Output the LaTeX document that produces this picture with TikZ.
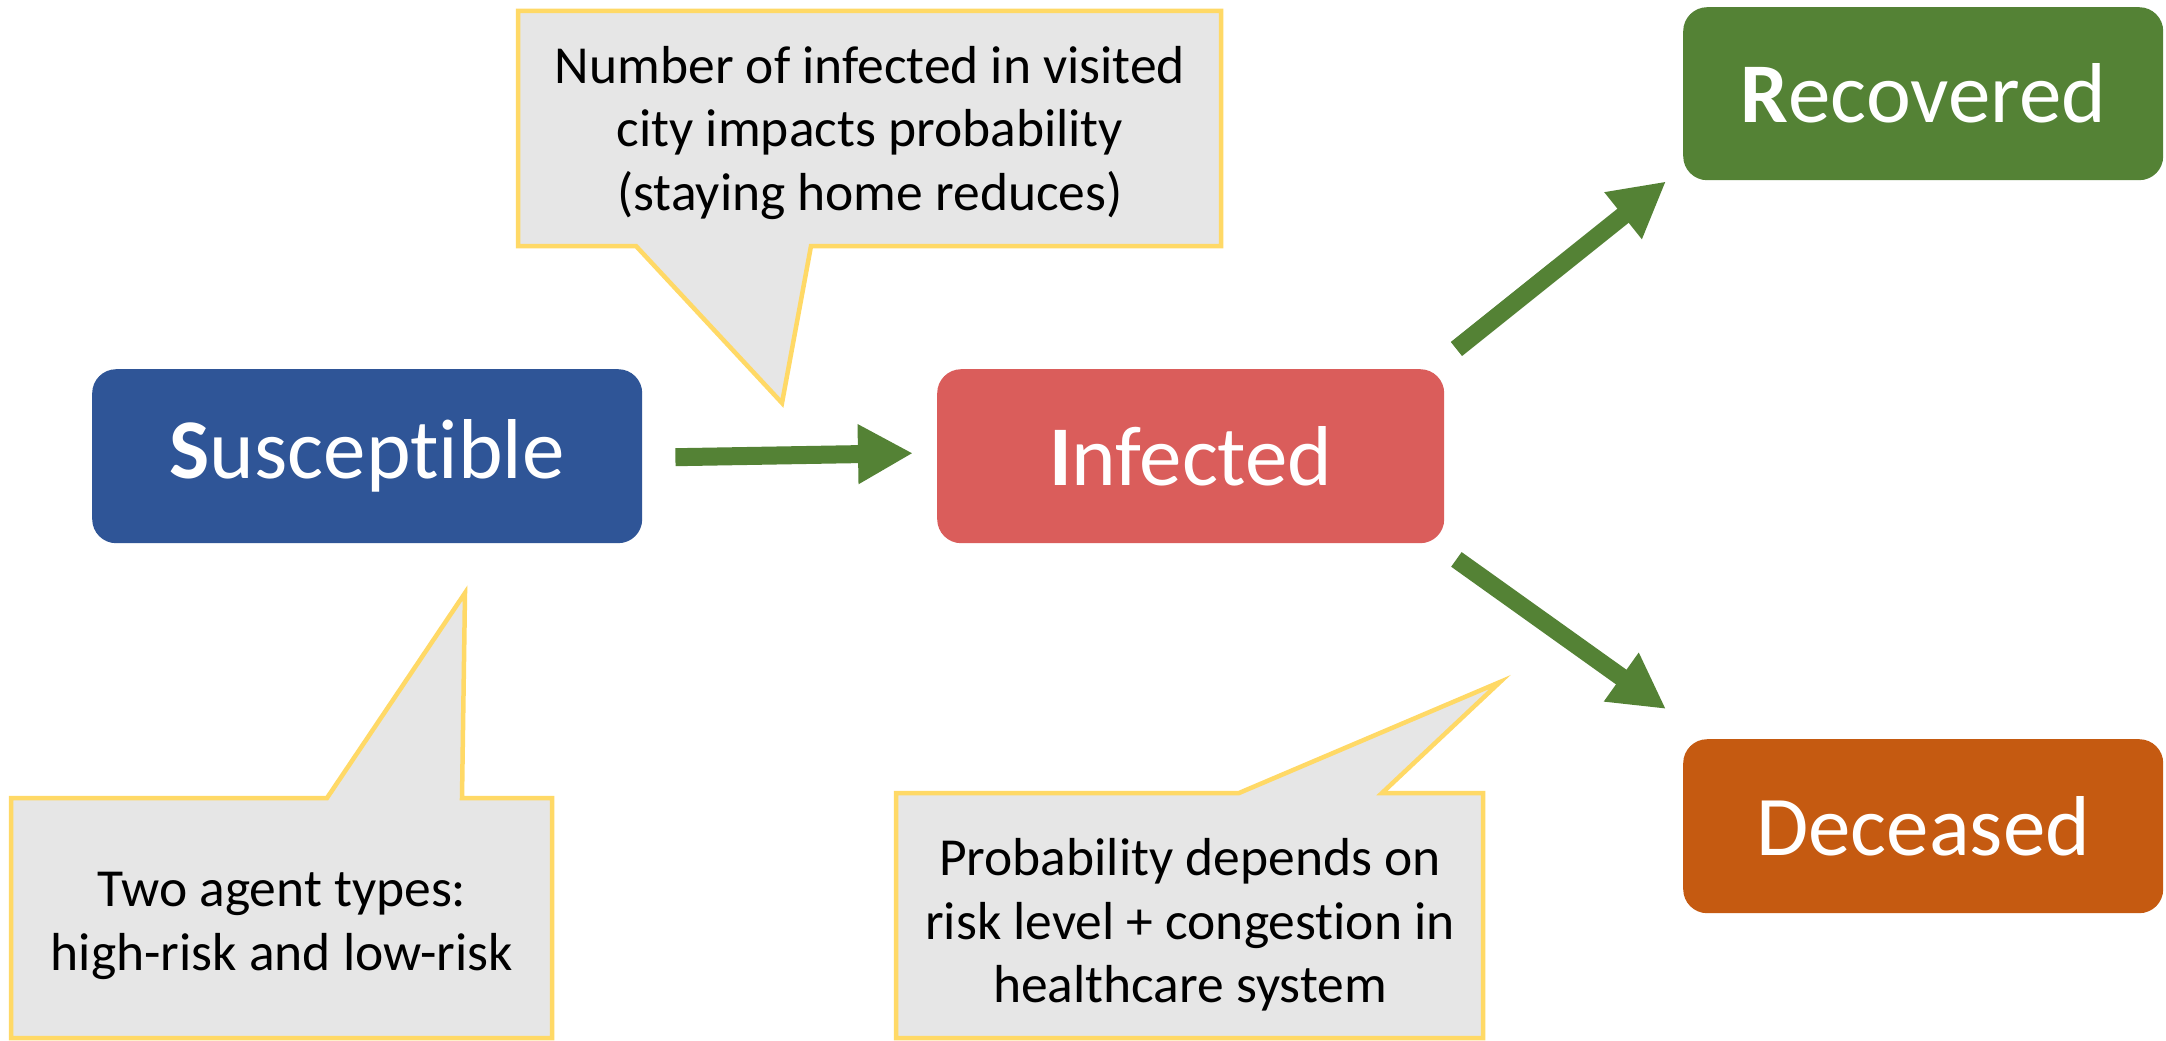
\documentclass[tikz,border=0pt]{standalone}
\usepackage{fontspec}
\setmainfont{Carlito}[RawFeature={-liga,-clig,-calt,-dlig}]
\usetikzlibrary{arrows.meta}
\definecolor{sblue}{HTML}{2F5597}
\definecolor{ired}{HTML}{DA5D5B}
\definecolor{rgreen}{HTML}{548235}
\definecolor{dorange}{HTML}{C55A11}
\definecolor{cfill}{HTML}{E6E6E6}
\definecolor{cborder}{HTML}{FFD966}
\tikzset{
  statebox/.style={rounded corners=24pt, inner sep=0pt, text=white,
    font=\fontsize{85}{100}\selectfont, anchor=north west},
  callout/.style={fill=cfill, draw=cborder, line width=4.5pt, line join=miter},
  calltext/.style={align=center, font=\fontsize{53.5}{63.5}\selectfont, text=black, inner sep=0pt},
  flow/.style={draw=rgreen, line width=18pt, -{Triangle[length=55pt,width=56pt]}}
}
\begin{document}
\begin{tikzpicture}[x=1pt,y=-1pt]
\useasboundingbox[fill=white] (0,0) rectangle (2166,1041);

% state boxes
\node[statebox, fill=sblue, minimum width=550pt, minimum height=174pt] (S) at (92,369) {{\bfseries S}usceptible};
\node[statebox, fill=ired, minimum width=507pt, minimum height=174pt] (I) at (937,369) {{\bfseries I}nfected};
\node[statebox, fill=rgreen, minimum width=480pt, minimum height=173pt] (R) at (1683,7) {{\bfseries R}ecovered};
\node[statebox, fill=dorange, minimum width=480pt, minimum height=174pt] (D) at (1683,739) {Deceased};

% callouts
\path[callout] (518,11) -- (1221,11) -- (1221,246) -- (811,246) -- (782,403) -- (636,246) -- (518,246) -- cycle;
\path[callout] (11,798) -- (327,798) -- (465,593) -- (462,798) -- (552,798) -- (552,1038) -- (11,1038) -- cycle;
\path[callout] (896,793) -- (1239,793) -- (1500,682) -- (1382,793) -- (1483,793) -- (1483,1038) -- (896,1038) -- cycle;

\node[calltext] (t1) at (870,133) {Number of infected in visited\\city impacts probability\\(staying home reduces)};
\node[calltext] (t2) at (282,926) {Two agent types:\\high-risk and low-risk};
\node[calltext] (t3) at (1190,925) {Probability depends on\\risk level + congestion in\\healthcare system};

% transitions
\draw[flow] ([xshift=33pt,yshift=-1pt]S.east) -- ([xshift=-24pt,yshift=3pt]I.west);
\draw[flow] ([xshift=12pt,yshift=20pt]I.north east) -- ([xshift=-17pt,yshift=-1pt]R.south west);
\draw[flow] ([xshift=12pt,yshift=-16pt]I.south east) -- ([xshift=-17pt,yshift=30pt]D.north west);
\end{tikzpicture}
\end{document}
